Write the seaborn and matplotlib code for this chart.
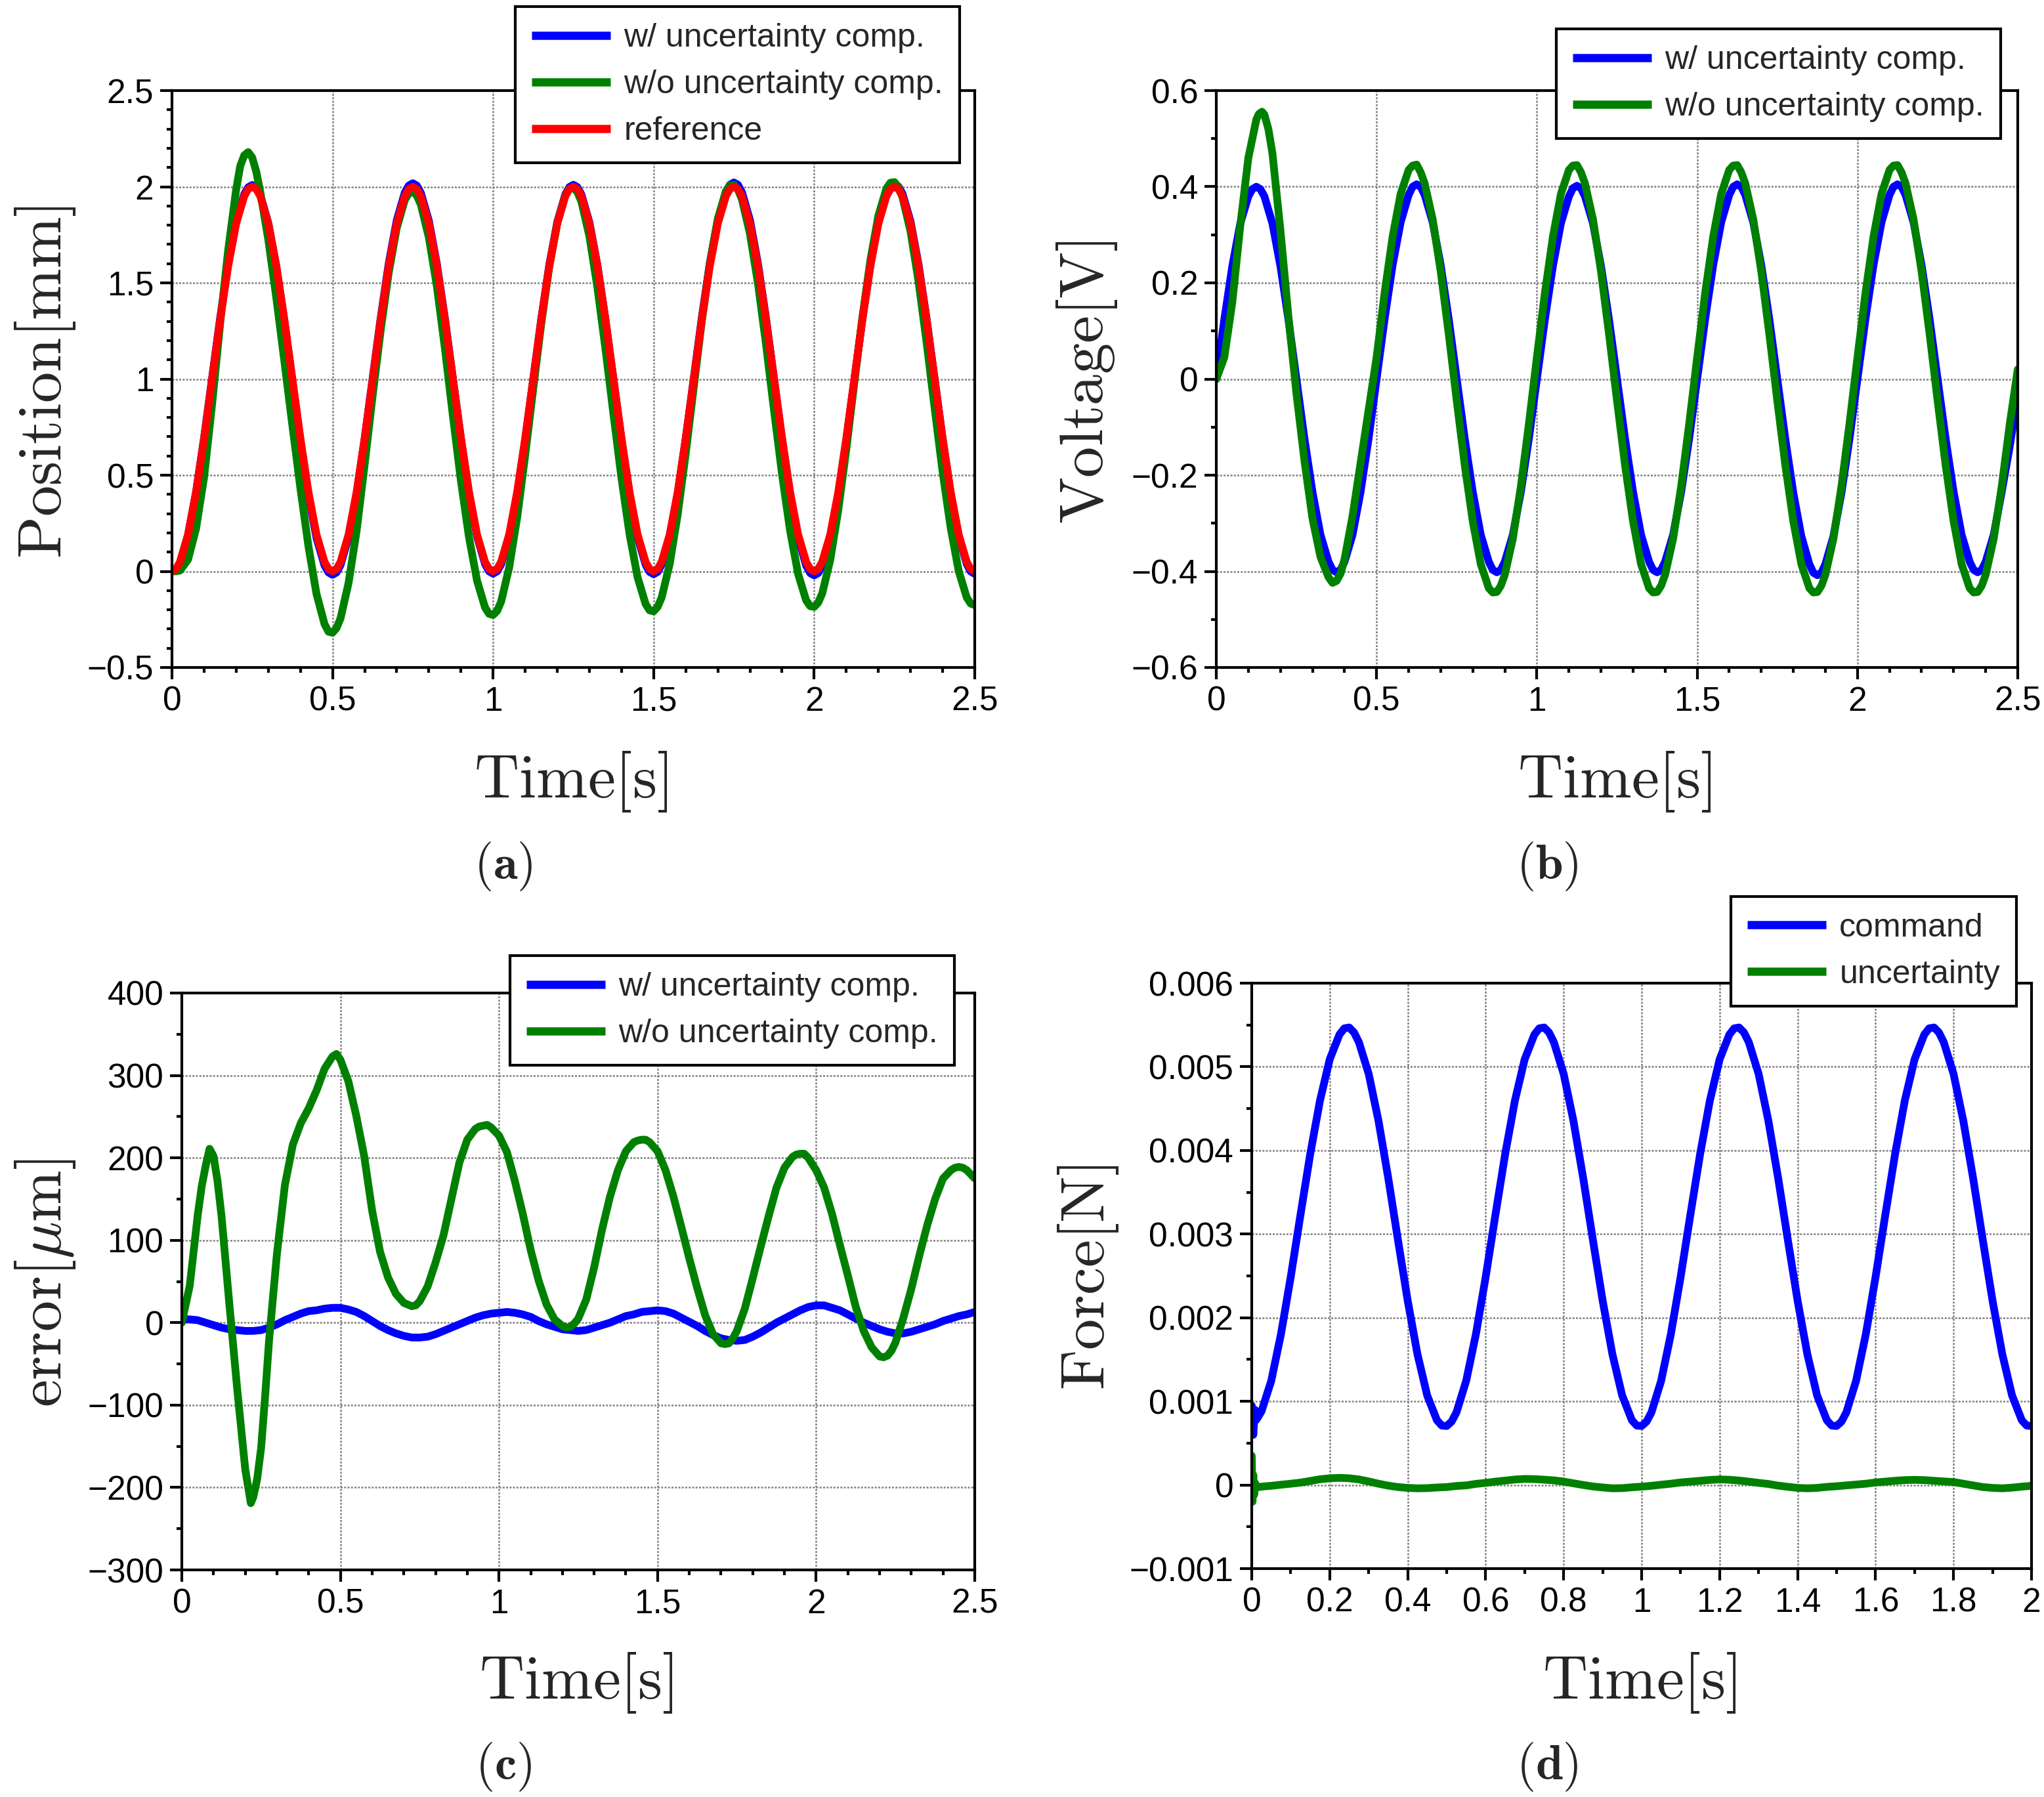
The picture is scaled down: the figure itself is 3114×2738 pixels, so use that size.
import numpy as np
import pandas as pd
import matplotlib
matplotlib.use("Agg")
import matplotlib.pyplot as plt
import seaborn as sns
from matplotlib.ticker import MultipleLocator, FuncFormatter

# ---------------- data ----------------
time_ab = np.round(np.arange(101) * 0.025, 4)          # 0 .. 2.5 s

pos_ref = [0.000, 0.049, 0.191, 0.412, 0.691, 1.000, 1.309, 1.588, 1.809, 1.951,
           2.000, 1.951, 1.809, 1.588, 1.309, 1.000, 0.691, 0.412, 0.191, 0.049,
           0.000, 0.049, 0.191, 0.412, 0.691, 1.000, 1.309, 1.588, 1.809, 1.951,
           2.000, 1.951, 1.809, 1.588, 1.309, 1.000, 0.691, 0.412, 0.191, 0.049,
           0.000, 0.049, 0.191, 0.412, 0.691, 1.000, 1.309, 1.588, 1.809, 1.951,
           2.000, 1.951, 1.809, 1.588, 1.309, 1.000, 0.691, 0.412, 0.191, 0.049,
           0.000, 0.049, 0.191, 0.412, 0.691, 1.000, 1.309, 1.588, 1.809, 1.951,
           2.000, 1.951, 1.809, 1.588, 1.309, 1.000, 0.691, 0.412, 0.191, 0.049,
           0.000, 0.049, 0.191, 0.412, 0.691, 1.000, 1.309, 1.588, 1.809, 1.951,
           2.000, 1.951, 1.809, 1.588, 1.309, 1.000, 0.691, 0.412, 0.191, 0.049,
           0.000]
# extra readings around the turning points
turn_t_ab = [0.0125, 0.2375, 0.2625, 0.4875, 0.5125, 0.7375, 0.7625, 0.9875, 1.0125, 1.2375,
             1.2625, 1.4875, 1.5125, 1.7375, 1.7625, 1.9875, 2.0125, 2.2375, 2.2625, 2.4875]
pos_ref_turn = [0.012, 1.988, 1.988, 0.012, 0.012, 1.988, 1.988, 0.012, 0.012, 1.988,
                1.988, 0.012, 0.012, 1.988, 1.988, 0.012, 0.012, 1.988, 1.988, 0.012]

pos_w = [0.000, 0.045, 0.188, 0.412, 0.694, 1.006, 1.317, 1.597, 1.819, 1.961,
         2.009, 1.957, 1.811, 1.585, 1.302, 0.989, 0.677, 0.397, 0.174, 0.031,
         -0.018, 0.033, 0.178, 0.404, 0.689, 1.004, 1.318, 1.601, 1.825, 1.969,
         2.018, 1.968, 1.823, 1.598, 1.315, 1.002, 0.689, 0.406, 0.182, 0.038,
         -0.012, 0.036, 0.179, 0.402, 0.684, 0.998, 1.311, 1.593, 1.817, 1.960,
         2.010, 1.960, 1.815, 1.591, 1.309, 0.996, 0.683, 0.402, 0.178, 0.035,
         -0.015, 0.035, 0.180, 0.406, 0.690, 1.004, 1.319, 1.603, 1.828, 1.972,
         2.022, 1.972, 1.826, 1.600, 1.315, 1.000, 0.686, 0.402, 0.176, 0.030,
         -0.021, 0.028, 0.173, 0.397, 0.681, 0.995, 1.309, 1.592, 1.817, 1.962,
         2.013, 1.964, 1.820, 1.596, 1.314, 1.002, 0.689, 0.407, 0.183, 0.039,
         -0.013]
pos_w_turn = [0.008, 1.997, 1.997, -0.006, -0.006, 2.006, 2.006, 0.000, 0.000, 1.998,
              1.998, -0.003, -0.003, 2.010, 2.010, -0.009, -0.009, 2.001, 2.001, -0.001]

pos_wo = [0.000, 0.004, 0.061, 0.222, 0.489, 0.870, 1.287, 1.670, 1.987, 2.163,
          2.152, 1.973, 1.725, 1.421, 1.093, 0.758, 0.431, 0.130, -0.117, -0.274,
          -0.319, -0.244, -0.060, 0.210, 0.555, 0.914, 1.254, 1.553, 1.785, 1.931,
          1.974, 1.907, 1.736, 1.482, 1.159, 0.806, 0.469, 0.177, -0.048, -0.188,
          -0.227, -0.158, 0.019, 0.280, 0.603, 0.949, 1.287, 1.584, 1.813, 1.956,
          1.995, 1.923, 1.742, 1.475, 1.156, 0.815, 0.483, 0.193, -0.031, -0.170,
          -0.208, -0.136, 0.038, 0.296, 0.613, 0.958, 1.300, 1.602, 1.834, 1.976,
          2.010, 1.934, 1.755, 1.496, 1.180, 0.836, 0.503, 0.211, -0.014, -0.151,
          -0.185, -0.115, 0.059, 0.318, 0.634, 0.981, 1.319, 1.618, 1.850, 1.991,
          2.024, 1.945, 1.768, 1.507, 1.191, 0.850, 0.516, 0.227, 0.002, -0.136,
          -0.175]
pos_wo_turn_t = [0.0125, 0.2125, 0.2375, 0.2625, 0.4875, 0.5125, 0.7375, 0.7625, 0.9875, 1.0125,
                 1.2375, 1.2625, 1.4875, 1.5125, 1.7375, 1.7625, 1.9875, 2.0125, 2.2375, 2.2625,
                 2.4875]
pos_wo_turn = [0.000, 2.107, 2.180, 2.078, -0.314, -0.295, 1.966, 1.954, -0.221, -0.206,
               1.989, 1.972, -0.203, -0.185, 2.007, 1.985, -0.181, -0.163, 2.021, 1.997,
               -0.168]

volt_w = [0.000, 0.124, 0.235, 0.324, 0.380, 0.400, 0.380, 0.324, 0.235, 0.124,
          0.000, -0.124, -0.235, -0.324, -0.380, -0.402, -0.380, -0.324, -0.235, -0.124,
          0.000, 0.125, 0.237, 0.326, 0.383, 0.405, 0.383, 0.326, 0.237, 0.125,
          0.000, -0.124, -0.235, -0.324, -0.380, -0.402, -0.380, -0.324, -0.235, -0.124,
          0.000, 0.124, 0.235, 0.324, 0.380, 0.402, 0.380, 0.324, 0.235, 0.124,
          0.000, -0.124, -0.235, -0.324, -0.380, -0.402, -0.380, -0.324, -0.235, -0.124,
          0.000, 0.125, 0.237, 0.326, 0.383, 0.405, 0.383, 0.326, 0.237, 0.125,
          0.000, -0.125, -0.237, -0.327, -0.385, -0.408, -0.385, -0.327, -0.237, -0.125,
          0.000, 0.125, 0.237, 0.326, 0.383, 0.405, 0.383, 0.326, 0.237, 0.125,
          0.000, -0.124, -0.235, -0.324, -0.380, -0.402, -0.380, -0.324, -0.235, -0.140,
          -0.035]
volt_w_turn_t = [0.1125, 0.1375, 0.3625, 0.3875, 0.6125, 0.6375, 0.8625, 0.8875, 1.1125, 1.1375,
                 1.3625, 1.3875, 1.6125, 1.6375, 1.8625, 1.8875, 2.1125, 2.1375, 2.3625, 2.3875]
volt_w_turn = [0.395, 0.395, -0.397, -0.397, 0.400, 0.400, -0.397, -0.397, 0.397, 0.397,
               -0.397, -0.397, 0.400, 0.400, -0.403, -0.403, 0.400, 0.400, -0.397, -0.397]

volt_wo = [0.000, 0.045, 0.160, 0.320, 0.460, 0.540, 0.550, 0.470, 0.310, 0.130,
           -0.030, -0.170, -0.290, -0.370, -0.412, -0.420, -0.375, -0.285, -0.175, -0.065,
           0.045, 0.179, 0.296, 0.385, 0.435, 0.446, 0.407, 0.332, 0.224, 0.094,
           -0.045, -0.179, -0.296, -0.385, -0.435, -0.443, -0.407, -0.332, -0.224, -0.094,
           0.045, 0.179, 0.296, 0.385, 0.435, 0.445, 0.407, 0.332, 0.224, 0.094,
           -0.045, -0.179, -0.296, -0.385, -0.435, -0.443, -0.407, -0.332, -0.224, -0.094,
           0.045, 0.179, 0.296, 0.385, 0.435, 0.445, 0.407, 0.332, 0.224, 0.094,
           -0.045, -0.179, -0.296, -0.385, -0.435, -0.443, -0.407, -0.332, -0.224, -0.094,
           0.045, 0.179, 0.296, 0.385, 0.435, 0.445, 0.407, 0.332, 0.224, 0.094,
           -0.045, -0.179, -0.296, -0.385, -0.435, -0.443, -0.407, -0.332, -0.224, -0.094,
           0.020]
volt_wo_turn_t = [0.1325, 0.1425, 0.1625, 0.3625, 0.3875, 0.6125, 0.6375, 0.8625, 0.8875, 1.1125,
                  1.1375, 1.3625, 1.3875, 1.6125, 1.6375, 1.8625, 1.8875, 2.1125, 2.1375, 2.3625,
                  2.3875]
volt_wo_turn = [0.551, 0.556, 0.520, -0.424, -0.405, 0.444, 0.430, -0.444, -0.430, 0.444,
                0.430, -0.444, -0.430, 0.444, 0.430, -0.444, -0.430, 0.444, 0.430, -0.444,
                -0.430]

err_w = [4, 4, 3, 0, -3, -6, -8, -9, -10, -10,
         -9, -6, -2, 3, 7, 11, 14, 15, 17, 18,
         18, 16, 13, 8, 2, -4, -9, -13, -16, -18,
         -18, -17, -14, -10, -6, -2, 2, 6, 9, 11,
         12, 13, 12, 10, 7, 2, -2, -5, -8, -9,
         -10, -9, -6, -3, 0, 4, 8, 10, 13, 14,
         15, 14, 11, 6, 1, -4, -10, -15, -19, -21,
         -22, -21, -17, -12, -6, 0, 5, 10, 15, 19,
         21, 21, 18, 15, 10, 5, 0, -4, -8, -11,
         -13, -13, -11, -8, -5, -2, 2, 5, 8, 10,
         13]

err_wo = [0, 45, 130, 190, 202, 130, 22, -82, -178, -212,
          -152, -22, 84, 167, 216, 242, 260, 282, 308, 323,
          319, 293, 251, 202, 136, 86, 55, 35, 24, 20,
          26, 44, 73, 106, 150, 194, 222, 235, 239, 237,
          227, 207, 172, 132, 88, 51, 22, 4, -4, -5,
          5, 28, 67, 113, 153, 185, 208, 219, 222, 219,
          208, 185, 153, 116, 78, 42, 9, -14, -25, -25,
          -10, 17, 54, 92, 129, 164, 188, 201, 205, 200,
          185, 164, 132, 94, 57, 19, -10, -30, -41, -40,
          -24, 6, 41, 81, 118, 150, 175, 185, 189, 185,
          175]
err_wo_turn_t = [0.0625, 0.0875, 0.1125, 0.2175, 0.2375, 0.2625, 0.4875, 0.7125, 0.7375, 0.9375,
                 0.9625, 1.2125, 1.2375, 1.4375, 1.4625, 1.7125, 1.7375, 1.9375, 1.9625, 2.2125,
                 2.2375, 2.4375, 2.4625]
err_wo_turn = [165, 211, 172, -219, -190, -90, 326, 22, 21, 238,
               240, -6, -1, 221, 222, -26, -19, 204, 205, -42,
               -34, 188, 188]

time_d = np.round(np.arange(1, 81) * 0.025, 4)          # 0.025 .. 2.0 s
cmd_start_t = [0.0, 0.004, 0.008, 0.012]
cmd_start = [0.00095, 0.00060, 0.00090, 0.00078]
force_cmd = [0.000880, 0.001245, 0.001804, 0.002487, 0.003230, 0.003956, 0.004596, 0.005089, 0.005386, 0.005470,
             0.005293, 0.004915, 0.004356, 0.003673, 0.002930, 0.002204, 0.001564, 0.001071, 0.000774, 0.000705,
             0.000867, 0.001245, 0.001804, 0.002487, 0.003230, 0.003956, 0.004596, 0.005089, 0.005386, 0.005470,
             0.005293, 0.004915, 0.004356, 0.003673, 0.002930, 0.002204, 0.001564, 0.001071, 0.000774, 0.000705,
             0.000867, 0.001245, 0.001804, 0.002487, 0.003230, 0.003956, 0.004596, 0.005089, 0.005386, 0.005470,
             0.005293, 0.004915, 0.004356, 0.003673, 0.002930, 0.002204, 0.001564, 0.001071, 0.000774, 0.000705,
             0.000867, 0.001245, 0.001804, 0.002487, 0.003230, 0.003956, 0.004596, 0.005089, 0.005386, 0.005470,
             0.005293, 0.004915, 0.004356, 0.003673, 0.002930, 0.002204, 0.001564, 0.001071, 0.000774, 0.000705]
cmd_turn_t = [0.2375, 0.2625, 0.4875, 0.5125, 0.7375, 0.7625, 0.9875, 1.0125,
              1.2375, 1.2625, 1.4875, 1.5125, 1.7375, 1.7625, 1.9875]
cmd_turn = [0.005460, 0.005410, 0.000710, 0.000757, 0.005460, 0.005410, 0.000710, 0.000757,
            0.005460, 0.005410, 0.000710, 0.000757, 0.005460, 0.005410, 0.000710]
unc_start_t = [0.0, 0.002, 0.004, 0.006, 0.009, 0.013]
unc_start = [0.00035, -0.00020, 0.00012, -0.00012, 0.00002, -0.00003]
force_unc = [-2.0e-5, -1.0e-5, 0.3e-5, 1.5e-5, 2.8e-5, 4.8e-5, 6.8e-5, 8.0e-5, 8.5e-5, 8.0e-5,
             6.6e-5, 4.2e-5, 1.5e-5, -0.8e-5, -2.5e-5, -3.5e-5, -4.0e-5, -3.8e-5, -3.0e-5, -2.5e-5,
             -1.2e-5, -0.5e-5, 1.3e-5, 2.5e-5, 4.0e-5, 5.2e-5, 6.5e-5, 7.2e-5, 7.0e-5, 6.3e-5,
             5.5e-5, 4.0e-5, 2.0e-5, 0.0, -1.8e-5, -3.0e-5, -4.0e-5, -3.8e-5, -2.8e-5, -2.0e-5,
             -1.0e-5, 0.3e-5, 1.5e-5, 3.0e-5, 4.0e-5, 5.0e-5, 6.0e-5, 6.6e-5, 6.2e-5, 5.3e-5,
             4.0e-5, 2.5e-5, 1.2e-5, -0.8e-5, -2.2e-5, -3.5e-5, -4.0e-5, -3.5e-5, -2.3e-5, -1.5e-5,
             -0.5e-5, 0.5e-5, 1.5e-5, 3.0e-5, 4.0e-5, 5.0e-5, 5.8e-5, 6.1e-5, 5.8e-5, 5.0e-5,
             4.2e-5, 3.5e-5, 1.5e-5, -0.5e-5, -2.5e-5, -3.5e-5, -4.0e-5, -3.2e-5, -2.0e-5, -1.0e-5]

lab_w = "w/ uncertainty comp."
lab_wo = "w/o uncertainty comp."

# ---------------- style ----------------
sns.set_style("white")
plt.rcParams.update({
    "font.family": ["Liberation Sans", "DejaVu Sans"],
    "mathtext.fontset": "cm",
    "axes.unicode_minus": True,
})

BLUE, GREEN, RED = "#0000FF", "#008000", "#FF0000"
LW = 8.5
W, H = 3114, 2738

fig = plt.figure(figsize=(W / 100, H / 100), dpi=100)


def add_axes(l, r, t, b):
    return fig.add_axes([l / W, 1 - b / H, (r - l) / W, (b - t) / H])


def merged(t, y, extra_t=(), extra_y=()):
    df = pd.DataFrame({"t": list(t) + list(extra_t), "v": list(y) + list(extra_y)})
    return df.sort_values("t").reset_index(drop=True)


def line(ax, df, color):
    sns.lineplot(data=df, x="t", y="v", ax=ax, color=color, linewidth=LW,
                 estimator=None, sort=False, legend=False,
                 solid_joinstyle="round", solid_capstyle="round")
    return ax.lines[-1]


fmt = FuncFormatter(lambda v, p: ("%g" % (0 if abs(v) < 1e-12 else v)).replace("-", "\u2212"))


def style(ax, xlim, ylim, xmaj, xmin, ymaj, ymin):
    ax.set_xlim(*xlim)
    ax.set_ylim(*ylim)
    ax.xaxis.set_major_locator(MultipleLocator(xmaj))
    ax.xaxis.set_minor_locator(MultipleLocator(xmin))
    ax.yaxis.set_major_locator(MultipleLocator(ymaj))
    ax.yaxis.set_minor_locator(MultipleLocator(ymin))
    ax.xaxis.set_major_formatter(fmt)
    ax.yaxis.set_major_formatter(fmt)
    ax.set_axisbelow(True)
    ax.grid(True, which="major", color="#808080", linestyle=(0, (1.2, 0.9)), linewidth=1.8)
    for s in ax.spines.values():
        s.set_visible(True)
        s.set_linewidth(3)
        s.set_color("black")
    ax.tick_params(which="both", direction="out", top=False, right=False,
                   bottom=True, left=True, width=3, colors="black",
                   labelsize=37, pad=7)
    ax.tick_params(which="major", length=13)
    ax.tick_params(which="minor", length=6)
    for lbl in ax.get_xticklabels() + ax.get_yticklabels():
        lbl.set_family("Liberation Sans")


def legend(ax, handles, labels, x, y):
    leg = ax.legend(handles, labels, loc="upper right",
                    bbox_to_anchor=(x / W, 1 - y / H), bbox_transform=fig.transFigure,
                    borderaxespad=0, frameon=True, fancybox=False, framealpha=1,
                    edgecolor="black", facecolor="white",
                    prop={"family": "Liberation Sans", "size": 36},
                    handlelength=2.4, handletextpad=0.4, borderpad=0.5,
                    labelspacing=0.5)
    leg.get_frame().set_linewidth(3)
    for h in leg.get_lines():
        h.set_linewidth(9)
        h.set_solid_capstyle("butt")
    return leg


def labels(ax, xl, yl, ylx, yly, xly):
    ax.set_xlabel(xl, fontsize=68)
    ax.set_ylabel(yl, fontsize=68)
    ax.xaxis.set_label_coords(0.497, xly)
    ax.yaxis.set_label_coords(ylx, yly)


# ---------------- (a) position ----------------
ax_a = add_axes(262, 1485, 138, 1017)
h1 = line(ax_a, merged(time_ab, pos_w, turn_t_ab, pos_w_turn), BLUE)
h2 = line(ax_a, merged(time_ab, pos_wo, pos_wo_turn_t, pos_wo_turn), GREEN)
h3 = line(ax_a, merged(time_ab, pos_ref, turn_t_ab, pos_ref_turn), RED)
style(ax_a, (0, 2.5), (-0.5, 2.5), 0.5, 0.1, 0.5, 0.1)
labels(ax_a, r"$\mathrm{Time[s]}$", r"$\mathrm{Position[mm]}$", -0.1177, 0.495, -0.142)
legend(ax_a, [h1, h2, h3], [lab_w, lab_wo, "reference"], 1462, 10)

# ---------------- (b) voltage ----------------
ax_b = add_axes(1853, 3074, 138, 1017)
h1 = line(ax_b, merged(time_ab, volt_w, volt_w_turn_t, volt_w_turn), BLUE)
h2 = line(ax_b, merged(time_ab, volt_wo, volt_wo_turn_t, volt_wo_turn), GREEN)
style(ax_b, (0, 2.5), (-0.6, 0.6), 0.5, 0.1, 0.2, 0.1)
labels(ax_b, r"$\mathrm{Time[s]}$", r"$\mathrm{Voltage[V]}$", -0.1212, 0.495, -0.142)
legend(ax_b, [h1, h2], [lab_w, lab_wo], 3048, 44)

# ---------------- (c) error ----------------
ax_c = add_axes(277, 1485, 1513, 2392)
h1 = line(ax_c, merged(time_ab, err_w), BLUE)
h2 = line(ax_c, merged(time_ab, err_wo, err_wo_turn_t, err_wo_turn), GREEN)
style(ax_c, (0, 2.5), (-300, 400), 0.5, 0.1, 100, 50)
labels(ax_c, r"$\mathrm{Time[s]}$", r"$\mathrm{error}[\mu\mathrm{m}]$", -0.1316, 0.497, -0.140)
legend(ax_c, [h1, h2], [lab_w, lab_wo], 1454, 1456)

# ---------------- (d) force ----------------
ax_d = add_axes(1907, 3095, 1498, 2390)
h1 = line(ax_d, merged(cmd_start_t + list(time_d) + cmd_turn_t,
                       cmd_start + force_cmd + cmd_turn), BLUE)
h2 = line(ax_d, merged(unc_start_t + list(time_d), unc_start + force_unc), GREEN)
style(ax_d, (0, 2.0), (-0.001, 0.006), 0.2, 0.1, 0.001, 0.0005)
labels(ax_d, r"$\mathrm{Time[s]}$", r"$\mathrm{Force[N]}$", -0.168, 0.497, -0.140)
legend(ax_d, [h1, h2], ["command", "uncertainty"], 3072, 1366)

# ---------------- panel letters ----------------
for txt, x, y in [("a", 767, 1320), ("b", 2357, 1320), ("c", 767, 2692), ("d", 2357, 2692)]:
    fig.text(x / W, 1 - y / H, r"$(\mathbf{%s})$" % txt, ha="center", va="center", fontsize=54)

fig.savefig("out.png", dpi=100)
